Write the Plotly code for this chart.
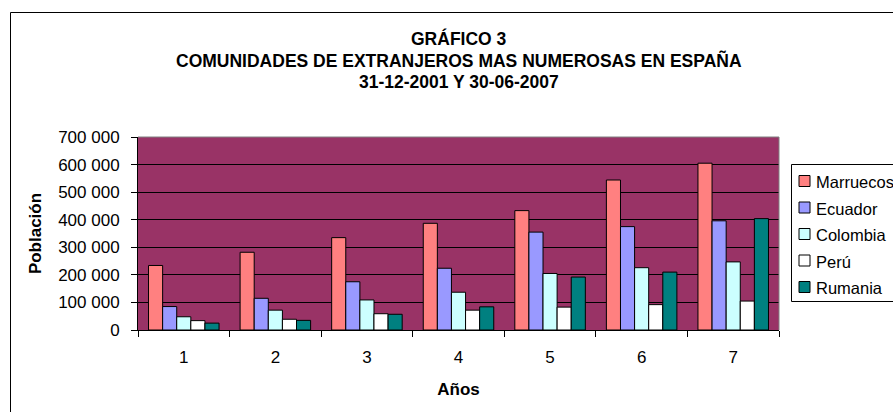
import plotly.graph_objects as go

# data
years = ['1', '2', '3', '4', '5', '6', '7']
marruecos = [234000, 282000, 335000, 387000, 433000, 544000, 605000]
ecuador = [85000, 115000, 175000, 224000, 355000, 375000, 396000]
colombia = [48000, 72000, 109000, 137000, 205000, 226000, 247000]
peru = [34000, 39000, 59000, 72000, 83000, 92000, 105000]
rumania = [25000, 35000, 57000, 84000, 192000, 210000, 404000]

y_tickvals = [0, 100000, 200000, 300000, 400000, 500000, 600000, 700000]
y_ticktext = ['0', '100 000', '200 000', '300 000', '400 000', '500 000', '600 000', '700 000']

title_lines = [
    'GRÁFICO 3',
    'COMUNIDADES DE EXTRANJEROS MAS NUMEROSAS EN ESPAÑA',
    '31-12-2001 Y 30-06-2007',
]

series = [
    ('Marruecos', marruecos, '#FF8080'),
    ('Ecuador', ecuador, '#9999FF'),
    ('Colombia', colombia, '#CCFFFF'),
    ('Perú', peru, '#FFFFFF'),
    ('Rumania', rumania, '#008080'),
]

W, H = 893, 412
L, R, T, B = 138, 779, 137, 330  # plot area in pixels
FONT = 'Liberation Sans, Arial, sans-serif'


def px_x(x):
    return (x - L) / (R - L)


def px_y(y):
    return (B - y) / (B - T)


fig = go.Figure()
for name, vals, color in series:
    fig.add_trace(go.Bar(
        x=years, y=vals, name=name, showlegend=False,
        marker=dict(color=color, line=dict(color='black', width=1)),
    ))

fig.update_layout(
    width=W, height=H,
    margin=dict(l=L, r=W - R, t=T, b=H - B, pad=0, autoexpand=False),
    paper_bgcolor='white',
    plot_bgcolor='#993366',
    font=dict(family=FONT, size=17, color='black'),
    barmode='group', bargap=0.23, bargroupgap=0,
)

# title, three centred bold lines
for i, line in enumerate(title_lines):
    fig.add_annotation(
        text=line, xref='paper', yref='paper', x=0.5, y=px_y(38.5 + 21.7 * i),
        xanchor='center', yanchor='middle', showarrow=False,
        font=dict(size=17.5, weight='bold'),
    )

fig.update_xaxes(
    type='category', tickson='boundaries', ticks='outside', ticklen=6,
    tickcolor='black', showline=True, linecolor='black', linewidth=1,
    showgrid=False, ticklabelstandoff=12, automargin=False,
    title=dict(text='Años', standoff=16, font=dict(size=17, weight='bold')),
)
fig.update_yaxes(
    range=[0, 700000], tickvals=y_tickvals, ticktext=y_ticktext,
    ticks='outside', ticklen=6, tickcolor='black',
    showline=True, linecolor='black', linewidth=1,
    showgrid=True, gridcolor='black', gridwidth=1, zeroline=False,
    ticklabelstandoff=8, automargin=False,
    title=dict(text='Población', standoff=12, font=dict(size=17, weight='bold')),
)

# plot area border (top and right) and outer chart frame
fig.add_shape(type='line', xref='paper', yref='paper', x0=0, x1=1, y0=1, y1=1,
              line=dict(color='#808080', width=1), layer='above')
fig.add_shape(type='line', xref='paper', yref='paper', x0=1, x1=1, y0=0, y1=1,
              line=dict(color='#808080', width=1), layer='above')
fig.add_shape(type='rect', xref='paper', yref='paper',
              x0=px_x(10.5), x1=px_x(W + 20), y0=px_y(H + 20), y1=px_y(12.5),
              line=dict(color='black', width=1), layer='below')

# legend box drawn by hand so it sits like the Excel one (cut at the right edge)
fig.add_shape(type='rect', xref='paper', yref='paper',
              x0=px_x(791.5), x1=px_x(W + 20), y0=px_y(301.5), y1=px_y(164.5),
              line=dict(color='black', width=1), fillcolor='white', layer='above')
for i, (name, vals, color) in enumerate(series):
    cy = 181 + 26.5 * i
    fig.add_shape(type='rect', xref='paper', yref='paper',
                  x0=px_x(799), x1=px_x(810), y0=px_y(cy + 5.5), y1=px_y(cy - 5.5),
                  line=dict(color='black', width=1), fillcolor=color, layer='above')
    fig.add_annotation(
        text=name, xref='paper', yref='paper', x=px_x(814), y=px_y(cy + 1),
        xanchor='left', yanchor='middle', showarrow=False, font=dict(size=16.5),
    )

# drop the default 8px page margin so the figure sits at the window corner
fig.write_html('out.html', config={'displayModeBar': False},
               post_script="document.body.style.margin='0';")
